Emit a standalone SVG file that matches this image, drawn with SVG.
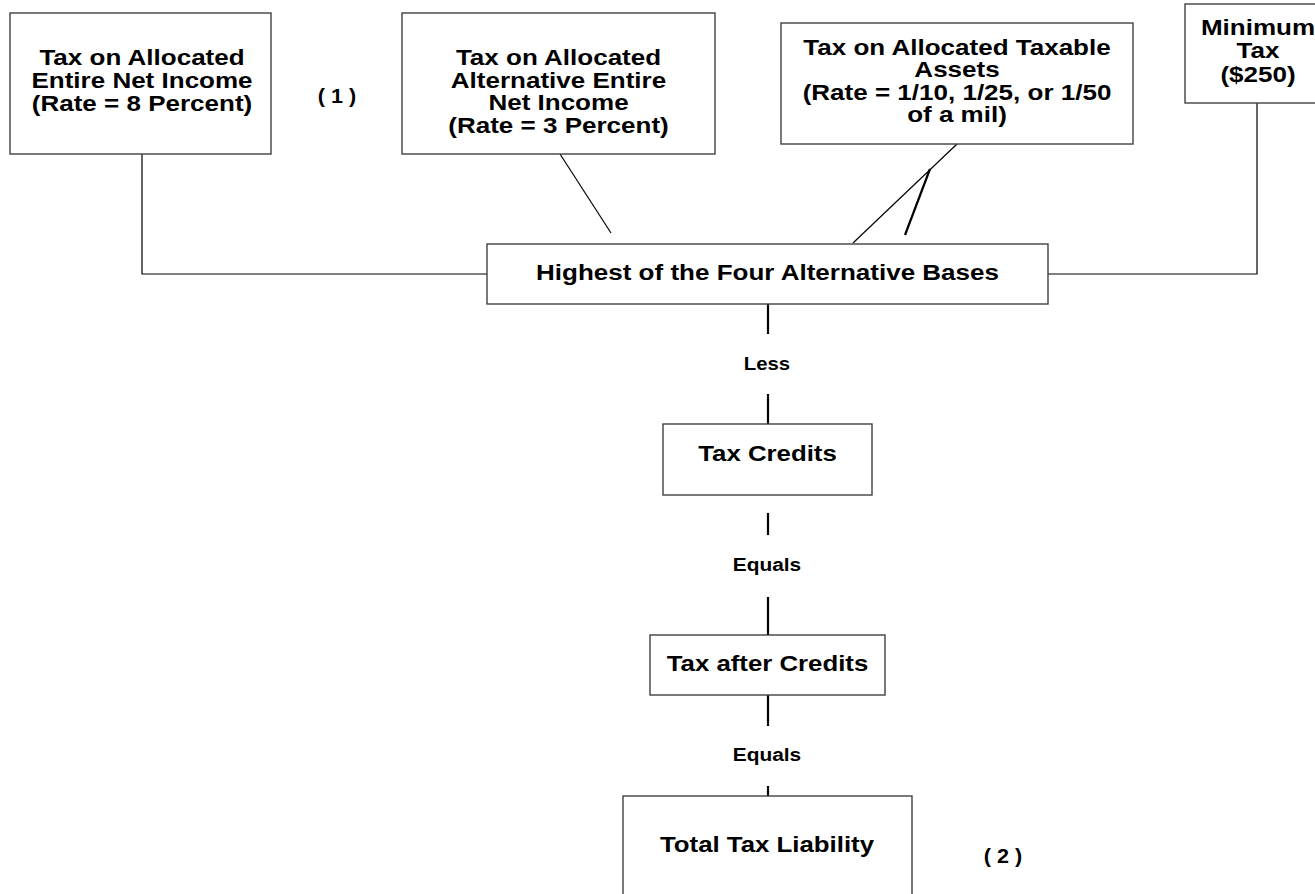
<svg xmlns="http://www.w3.org/2000/svg" width="1315" height="894" viewBox="0 0 1315 894">
<style>
.box{fill:#fff;stroke:#404040;stroke-width:1.4}
.ln{stroke:#000;stroke-width:1.2;fill:none}
.thk{stroke:#000;stroke-width:2.2;fill:none}
.t{font-family:"Liberation Sans",Arial,sans-serif;font-weight:bold;font-size:21.5px;fill:#000;text-anchor:middle}
.s{font-family:"Liberation Sans",Arial,sans-serif;font-weight:bold;font-size:18px;fill:#000;text-anchor:middle}
.n{font-family:"Liberation Sans",Arial,sans-serif;font-weight:bold;font-size:20px;fill:#000;text-anchor:middle}
</style>
<rect width="1315" height="894" fill="#fff"/>
<g id="connectors">
<polyline class="ln" points="142,154 142,274 487,274"/>
<line class="ln" x1="560" y1="154" x2="611" y2="233"/>
<line class="ln" x1="957" y1="144" x2="853" y2="243"/>
<line class="thk" x1="930" y1="169" x2="905" y2="235"/>
<polyline class="ln" points="1257,103 1257,274 1048,274"/>
<line class="thk" x1="768" y1="304" x2="768" y2="334"/>
<line class="thk" x1="768" y1="394" x2="768" y2="424"/>
<line class="thk" x1="768" y1="513" x2="768" y2="535"/>
<line class="thk" x1="768" y1="597" x2="768" y2="635"/>
<line class="thk" x1="768" y1="695" x2="768" y2="726"/>
<line class="thk" x1="768" y1="786" x2="768" y2="796"/>
<text class="s" transform="translate(767,370) scale(1.13,1)">Less</text>
<text class="s" transform="translate(767,571) scale(1.16,1)">Equals</text>
<text class="s" transform="translate(767,761) scale(1.16,1)">Equals</text>
</g>
<g id="node-entire-net-income">
<rect class="box" x="10" y="13" width="261" height="141"/>
<text class="t" transform="translate(142,65) scale(1.21,1)"><tspan x="0">Tax on Allocated</tspan><tspan x="0" dy="23">Entire Net Income</tspan><tspan x="0" dy="23">(Rate = 8 Percent)</tspan></text>
</g>
<g id="note-1">
<text class="n" transform="translate(337,103) scale(1.08,1)">( 1 )</text>
</g>
<g id="node-alternative">
<rect class="box" x="402" y="13" width="313" height="141"/>
<text class="t" transform="translate(558.5,65) scale(1.21,1)"><tspan x="0">Tax on Allocated</tspan><tspan x="0" dy="22.7">Alternative Entire</tspan><tspan x="0" dy="22.7">Net Income</tspan><tspan x="0" dy="22.7">(Rate = 3 Percent)</tspan></text>
</g>
<g id="node-assets">
<rect class="box" x="781" y="23" width="352" height="121"/>
<text class="t" transform="translate(957,55) scale(1.21,1)"><tspan x="0">Tax on Allocated Taxable</tspan><tspan x="0" dy="22.4">Assets</tspan><tspan x="0" dy="22.4">(Rate = 1/10, 1/25, or 1/50</tspan><tspan x="0" dy="22.4">of a mil)</tspan></text>
</g>
<g id="node-minimum">
<rect class="box" x="1185" y="4" width="140" height="99"/>
<text class="t" transform="translate(1258,35) scale(1.21,1)"><tspan x="0">Minimum</tspan><tspan x="0" dy="23.5">Tax</tspan><tspan x="0" dy="23.5">($250)</tspan></text>
</g>
<g id="node-highest">
<rect class="box" x="487" y="244" width="561" height="60"/>
<text class="t" transform="translate(767.5,280) scale(1.21,1)">Highest of the Four Alternative Bases</text>
</g>
<g id="node-credits">
<rect class="box" x="663" y="424" width="209" height="71"/>
<text class="t" transform="translate(767.5,461) scale(1.2,1)">Tax Credits</text>
</g>
<g id="node-after-credits">
<rect class="box" x="650" y="635" width="235" height="60"/>
<text class="t" transform="translate(767.5,671) scale(1.2,1)">Tax after Credits</text>
</g>
<g id="node-total">
<rect class="box" x="623" y="796" width="289" height="110"/>
<text class="t" transform="translate(767,852) scale(1.2,1)">Total Tax Liability</text>
</g>
<g id="note-2">
<text class="n" transform="translate(1003,863) scale(1.08,1)">( 2 )</text>
</g>
</svg>
